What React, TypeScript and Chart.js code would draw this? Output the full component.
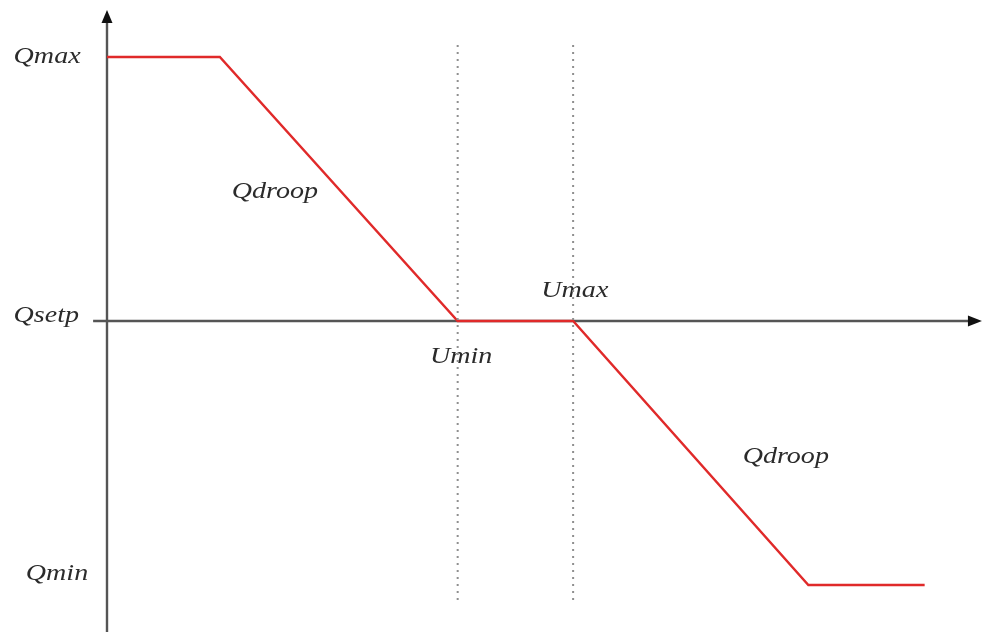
import React, { useEffect, useRef } from "react";
import { Chart, registerables } from "chart.js";

Chart.register(...registerables);

// Q(U) droop characteristic
const curveU = [0, 13.0, 40.4, 53.7, 80.8, 94.2];
const curveQ = [1, 1, 0, 0, -1, -1];

const uMinValue = 40.4;
const uMaxValue = 53.7;
const dashTop = 1.045;
const dashBottom = -1.076;

const labelTexts = ["Qmax", "Qsetp", "Qmin", "Qdroop", "Qdroop", "Umin", "Umax"];
const labelU = [-6.9, -7.0, -5.76, 19.35, 78.2, 40.8, 53.9];
const labelQ = [0.977, -0.004, -0.981, 0.466, -0.538, -0.159, 0.091];

const xAxisStart = -1.6;
const xAxisEnd = 100.8;
const yAxisEnd = 1.178;
const yMin = -1.178;
const yMax = 1.178;

const axesPlugin = {
  id: "axesAndLabels",
  beforeDatasetsDraw(chart: any) {
    const { ctx, scales } = chart;
    const xs = scales.x;
    const ys = scales.y;
    const x0 = xs.getPixelForValue(0);
    const y0 = ys.getPixelForValue(0);
    ctx.save();
    ctx.strokeStyle = "#555555";
    ctx.fillStyle = "#111";
    ctx.lineWidth = 2.4;
    // y axis
    const yTop = ys.getPixelForValue(yAxisEnd);
    ctx.beginPath();
    ctx.moveTo(x0, ys.getPixelForValue(yMin) + 2);
    ctx.lineTo(x0, yTop + 10);
    ctx.stroke();
    ctx.beginPath();
    ctx.moveTo(x0, yTop);
    ctx.lineTo(x0 - 5.5, yTop + 13);
    ctx.lineTo(x0 + 5.5, yTop + 13);
    ctx.closePath();
    ctx.fill();
    // x axis
    const xRight = xs.getPixelForValue(xAxisEnd);
    ctx.beginPath();
    ctx.moveTo(xs.getPixelForValue(xAxisStart), y0);
    ctx.lineTo(xRight - 10, y0);
    ctx.stroke();
    ctx.beginPath();
    ctx.moveTo(xRight, y0);
    ctx.lineTo(xRight - 14, y0 - 5.5);
    ctx.lineTo(xRight - 14, y0 + 5.5);
    ctx.closePath();
    ctx.fill();
    // labels
    ctx.font = 'italic 23px "Liberation Serif", "Times New Roman", serif';
    ctx.fillStyle = "#2b2b2b";
    ctx.textAlign = "center";
    ctx.textBaseline = "alphabetic";
    labelTexts.forEach((t, i) => {
      const px = xs.getPixelForValue(labelU[i]);
      const py = ys.getPixelForValue(labelQ[i]);
      ctx.save();
      ctx.translate(px, py);
      ctx.scale(1.22, 1);
      ctx.fillText(t, 0, 0);
      ctx.restore();
    });
    ctx.restore();
  },
};

export default function App() {
  const ref = useRef<HTMLCanvasElement>(null);
  useEffect(() => {
    if (!ref.current) return;
    const chart = new Chart(ref.current, {
      type: "scatter",
      data: {
        datasets: [
          {
            data: [
              { x: uMinValue, y: dashTop },
              { x: uMinValue, y: dashBottom },
            ],
            showLine: true,
            borderColor: "#8f8f8f",
            borderWidth: 2,
            borderDash: [2, 5],
            pointRadius: 0,
          },
          {
            data: [
              { x: uMaxValue, y: dashTop },
              { x: uMaxValue, y: dashBottom },
            ],
            showLine: true,
            borderColor: "#8f8f8f",
            borderWidth: 2,
            borderDash: [2, 5],
            pointRadius: 0,
          },
          {
            data: curveU.map((u, i) => ({ x: u, y: curveQ[i] })),
            showLine: true,
            borderColor: "#e02a2a",
            borderWidth: 2.4,
            pointRadius: 0,
            tension: 0,
          },
        ],
      },
      options: {
        responsive: false,
        animation: false,
        layout: { padding: { left: 107, right: 8, top: 10, bottom: 0 } },
        plugins: { legend: { display: false }, tooltip: { enabled: false } },
        scales: {
          x: { type: "linear", min: 0, max: 100, display: false },
          y: { type: "linear", min: yMin, max: yMax, display: false },
        },
      },
      plugins: [axesPlugin],
    });
    return () => chart.destroy();
  }, []);
  return (
    <div style={{ position: "fixed", left: 0, top: 0, width: 983, height: 632, background: "#fff" }}>
      <canvas ref={ref} width={983} height={632} />
    </div>
  );
}
